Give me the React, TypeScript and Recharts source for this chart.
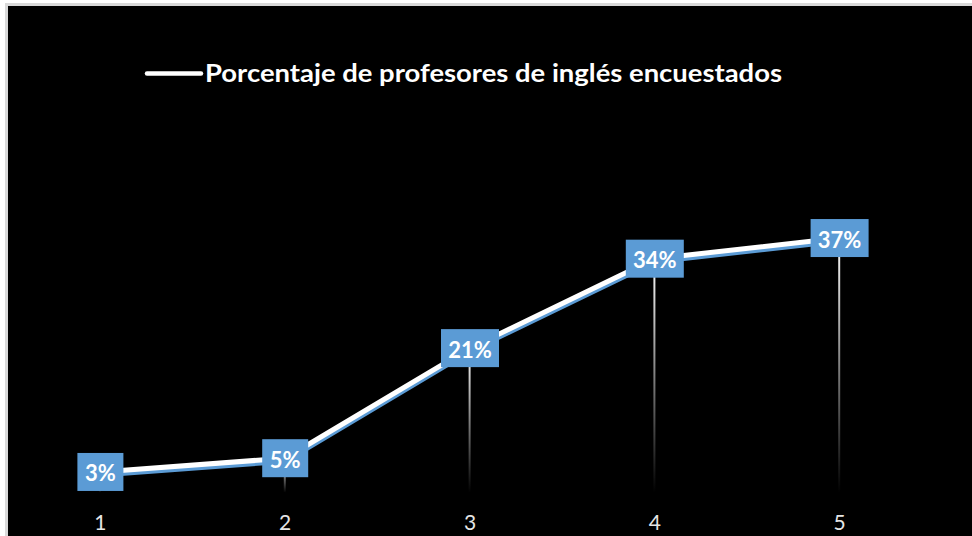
import React from "react";
import { ComposedChart, Line, Bar, XAxis, YAxis, LabelList } from "recharts";

const categories = ["1", "2", "3", "4", "5"];
const values = [0.03, 0.05, 0.21, 0.34, 0.37];
const seriesName = "Porcentaje de profesores de inglés encuestados";

const data = categories.map((c, i) => ({ cat: c, v: values[i] }));

const W = 964;
const H = 530;
const FONT = "Lato, 'Open Sans', sans-serif";

const Tick = (props: any) => {
  const { x, y, payload } = props;
  return (
    <text x={x} y={y + 29} textAnchor="middle" dominantBaseline="central" fill="#e6e6e6" fontSize={21} fontFamily={FONT}>
      {payload.value}
    </text>
  );
};

const LabelBox = (props: any) => {
  const { x, y, value } = props;
  const txt = `${Math.round(value * 100)}%`;
  const w = 46 + (txt.length - 2) * 12;
  const h = 38;
  return (
    <g>
      <rect x={x - w / 2} y={y - h / 2} width={w} height={h} fill="#5b9bd5" />
      <text x={x} y={y + 1} textAnchor="middle" dominantBaseline="central" fill="#ffffff" fontSize={22} fontWeight={700} fontFamily={FONT}>
        {txt}
      </text>
    </g>
  );
};

export default function App() {
  return (
    <div style={{ position: "fixed", left: 0, top: 0, width: 972, height: 536, background: "#ffffff", overflow: "hidden" }}>
      <style>{`html, body { margin: 0; overflow: hidden; } .shadowline { transform: translate(0px, 3px); }`}</style>
      <div
        style={{
          position: "absolute",
          left: 5,
          top: 3,
          borderTop: "3px solid #d9d9d9",
          borderLeft: "3px solid #d9d9d9",
          width: W,
          height: H,
          background: "#000",
          overflow: "hidden",
        }}
      >
        <svg width={W} height={120} style={{ position: "absolute", left: 0, top: 0 }}>
          <line x1={139} x2={193} y1={67.5} y2={67.5} stroke="#ffffff" strokeWidth={4.5} strokeLinecap="round" />
          <text x={197} y={76} fill="#ffffff" fontSize={25} fontWeight={700} fontFamily={FONT} textLength={577} lengthAdjust="spacingAndGlyphs">
            {seriesName}
          </text>
        </svg>
        <div style={{ position: "absolute", left: 0, top: 0 }}>
          <ComposedChart width={W} height={H} data={data} margin={{ top: 211.4, right: 40, bottom: 13.4, left: 0 }}>
            <defs>
              <linearGradient id="dropGrad" x1="0" y1="0" x2="0" y2="1">
                <stop offset="0%" stopColor="#ffffff" />
                <stop offset="100%" stopColor="#000000" />
              </linearGradient>
            </defs>
            <XAxis dataKey="cat" axisLine={false} tickLine={false} tickSize={0} tickMargin={0} height={30} tick={<Tick />} interval={0} />
            <YAxis hide domain={[0, 0.4]} />
            <Bar dataKey="v" barSize={2} fill="url(#dropGrad)" isAnimationActive={false} />
            <Line dataKey="v" className="shadowline" stroke="#5b9bd5" strokeWidth={5} dot={false} isAnimationActive={false} />
            <Line dataKey="v" stroke="#ffffff" strokeWidth={5} dot={false} isAnimationActive={false}>
              <LabelList dataKey="v" content={<LabelBox />} />
            </Line>
          </ComposedChart>
        </div>
      </div>
    </div>
  );
}
